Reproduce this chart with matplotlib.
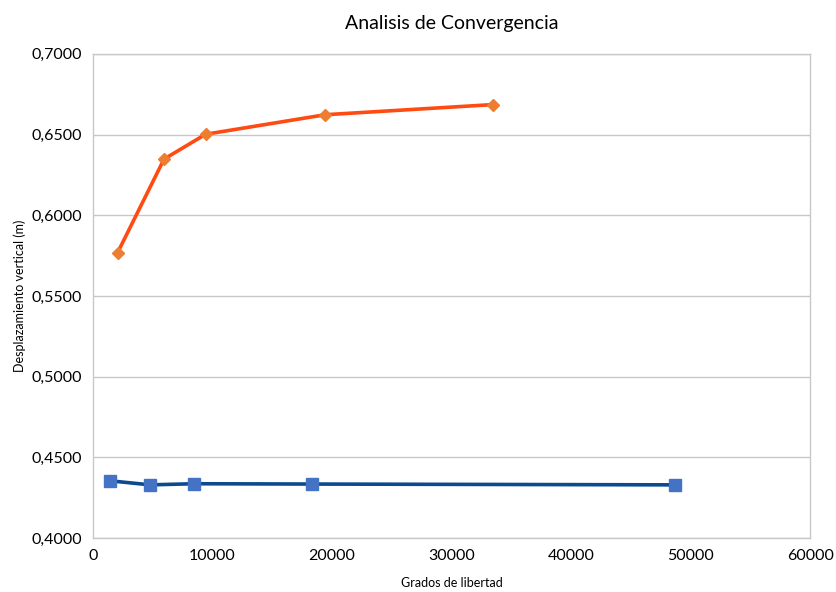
import matplotlib.pyplot as plt
from matplotlib.ticker import FuncFormatter

plt.rcParams["font.family"] = ["Lato", "DejaVu Sans"]

# Grados de libertad / desplazamiento vertical (m)
gdl_a = [2070, 5950, 9430, 19430, 33500]
desp_a = [0.5769, 0.6348, 0.6502, 0.6623, 0.6686]

gdl_b = [1440, 4790, 8470, 18340, 48700]
desp_b = [0.4355, 0.4330, 0.4337, 0.4335, 0.4330]

fig = plt.figure(figsize=(8.37, 5.92), dpi=100)
ax = fig.add_axes([0.111, 0.091, 0.857, 0.818])

ax.plot(gdl_a, desp_a, color="#FF4A12", linewidth=2.6, zorder=2)
ax.plot(gdl_a, desp_a, linestyle="none", marker="D", markersize=6.5,
        color="#ED7D31", zorder=3)
ax.plot(gdl_b, desp_b, color="#0B4A8E", linewidth=2.6, zorder=2)
ax.plot(gdl_b, desp_b, linestyle="none", marker="s", markersize=8,
        color="#4472C4", zorder=3)

ax.set_xlim(0, 60000)
ax.set_ylim(0.4, 0.7)
ax.set_xticks(range(0, 60001, 10000))
ax.set_yticks([0.40, 0.45, 0.50, 0.55, 0.60, 0.65, 0.70])
ax.yaxis.set_major_formatter(FuncFormatter(lambda v, p: f"{v:.4f}".replace(".", ",")))
ax.tick_params(length=0, labelsize=11.5, pad=8, colors="#000000")
ax.grid(axis="y", color="#C8C8C8", linewidth=1)
ax.set_axisbelow(True)
for s in ax.spines.values():
    s.set_color("#C8C8C8")
    s.set_linewidth(1)

ax.set_title("Analisis de Convergencia", fontsize=14, pad=18)
ax.set_xlabel("Grados de libertad", fontsize=9, labelpad=10)
ax.set_ylabel("Desplazamiento vertical (m)", fontsize=9, labelpad=4)

fig.savefig("out.png", dpi=100)
